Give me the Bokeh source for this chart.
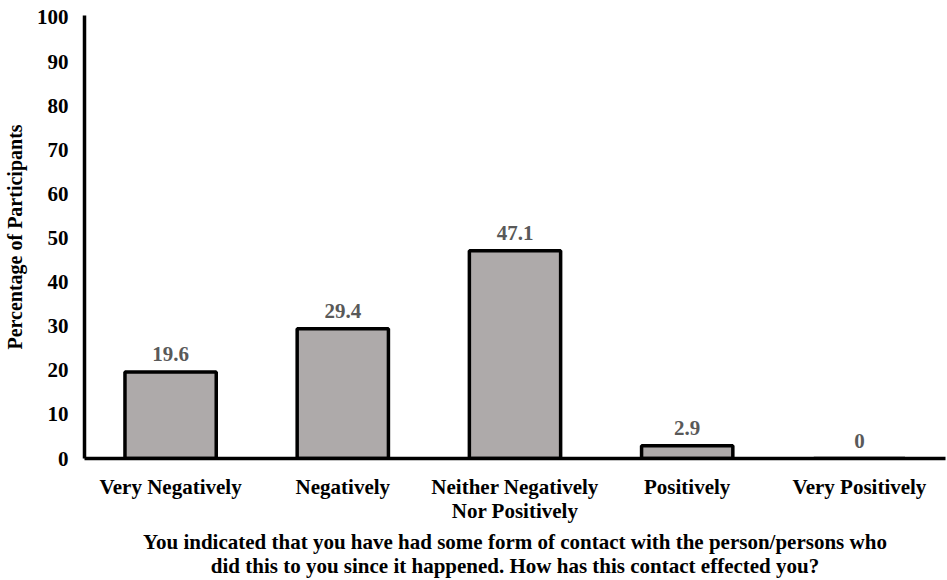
from bokeh.plotting import figure
from bokeh.models import ColumnDataSource, LabelSet, Range1d
from bokeh.core.properties import value
from bokeh.embed import file_html
from bokeh.resources import INLINE

categories = ["Very Negatively", "Negatively", "Neither Negatively\nNor Positively", "Positively", "Very Positively"]
percentages = [19.6, 29.4, 47.1, 2.9, 0]
bar_labels = ["19.6", "29.4", "47.1", "2.9", "0"]
y_ticks = [0, 10, 20, 30, 40, 50, 60, 70, 80, 90, 100]
x_title = ("You indicated that you have had some form of contact with the person/persons who\n"
           "did this to you since it happened. How has this contact effected you?")
y_title = "Percentage of Participants"

FONT = "Liberation Serif"

src = ColumnDataSource(dict(cat=categories, val=percentages, lab=bar_labels))

p = figure(x_range=categories, y_range=Range1d(0, 100.45),
           width=947, height=580, output_backend="svg", toolbar_location=None,
           min_border_left=60, min_border_right=2, min_border_top=15, min_border_bottom=40)

p.vbar(x="cat", top="val", width=0.53, source=src,
       fill_color="#AEAAAA", line_color="black", line_width=3.5)

labels = LabelSet(x="cat", y="val", text="lab", source=src, y_offset=11,
                  text_align="center", text_baseline="bottom",
                  text_font=value(FONT), text_font_style="bold",
                  text_font_size="21px", text_color="#595959")
p.add_layout(labels)

p.xgrid.grid_line_color = None
p.ygrid.grid_line_color = None
p.outline_line_color = None

for ax in (p.xaxis, p.yaxis):
    ax.axis_line_color = "black"
    ax.axis_line_width = 3.5
    ax.major_tick_line_color = None
    ax.minor_tick_line_color = None
    ax.major_tick_in = 0
    ax.major_tick_out = 0
    ax.minor_tick_in = 0
    ax.minor_tick_out = 0
    ax.major_label_text_font = FONT
    ax.major_label_text_font_style = "bold"
    ax.major_label_text_font_size = "21px"
    ax.major_label_text_color = "black"
    ax.major_label_text_line_height = 1.0
    ax.axis_label_text_font = FONT
    ax.axis_label_text_font_style = "bold"
    ax.axis_label_text_color = "black"
    ax.axis_label_text_line_height = 1.0

p.yaxis.ticker = y_ticks
p.yaxis.major_label_standoff = 16
p.yaxis.axis_label = y_title
p.yaxis.axis_label_text_font_size = "20px"
p.yaxis.axis_label_standoff = 8

p.xaxis.major_label_standoff = 16
p.xaxis.axis_label = x_title
p.xaxis.axis_label_text_font_size = "21px"
p.xaxis.axis_label_standoff = 4
p.xaxis.axis_label_text_align = "center"

open("out.html", "w").write(file_html(p, INLINE))
